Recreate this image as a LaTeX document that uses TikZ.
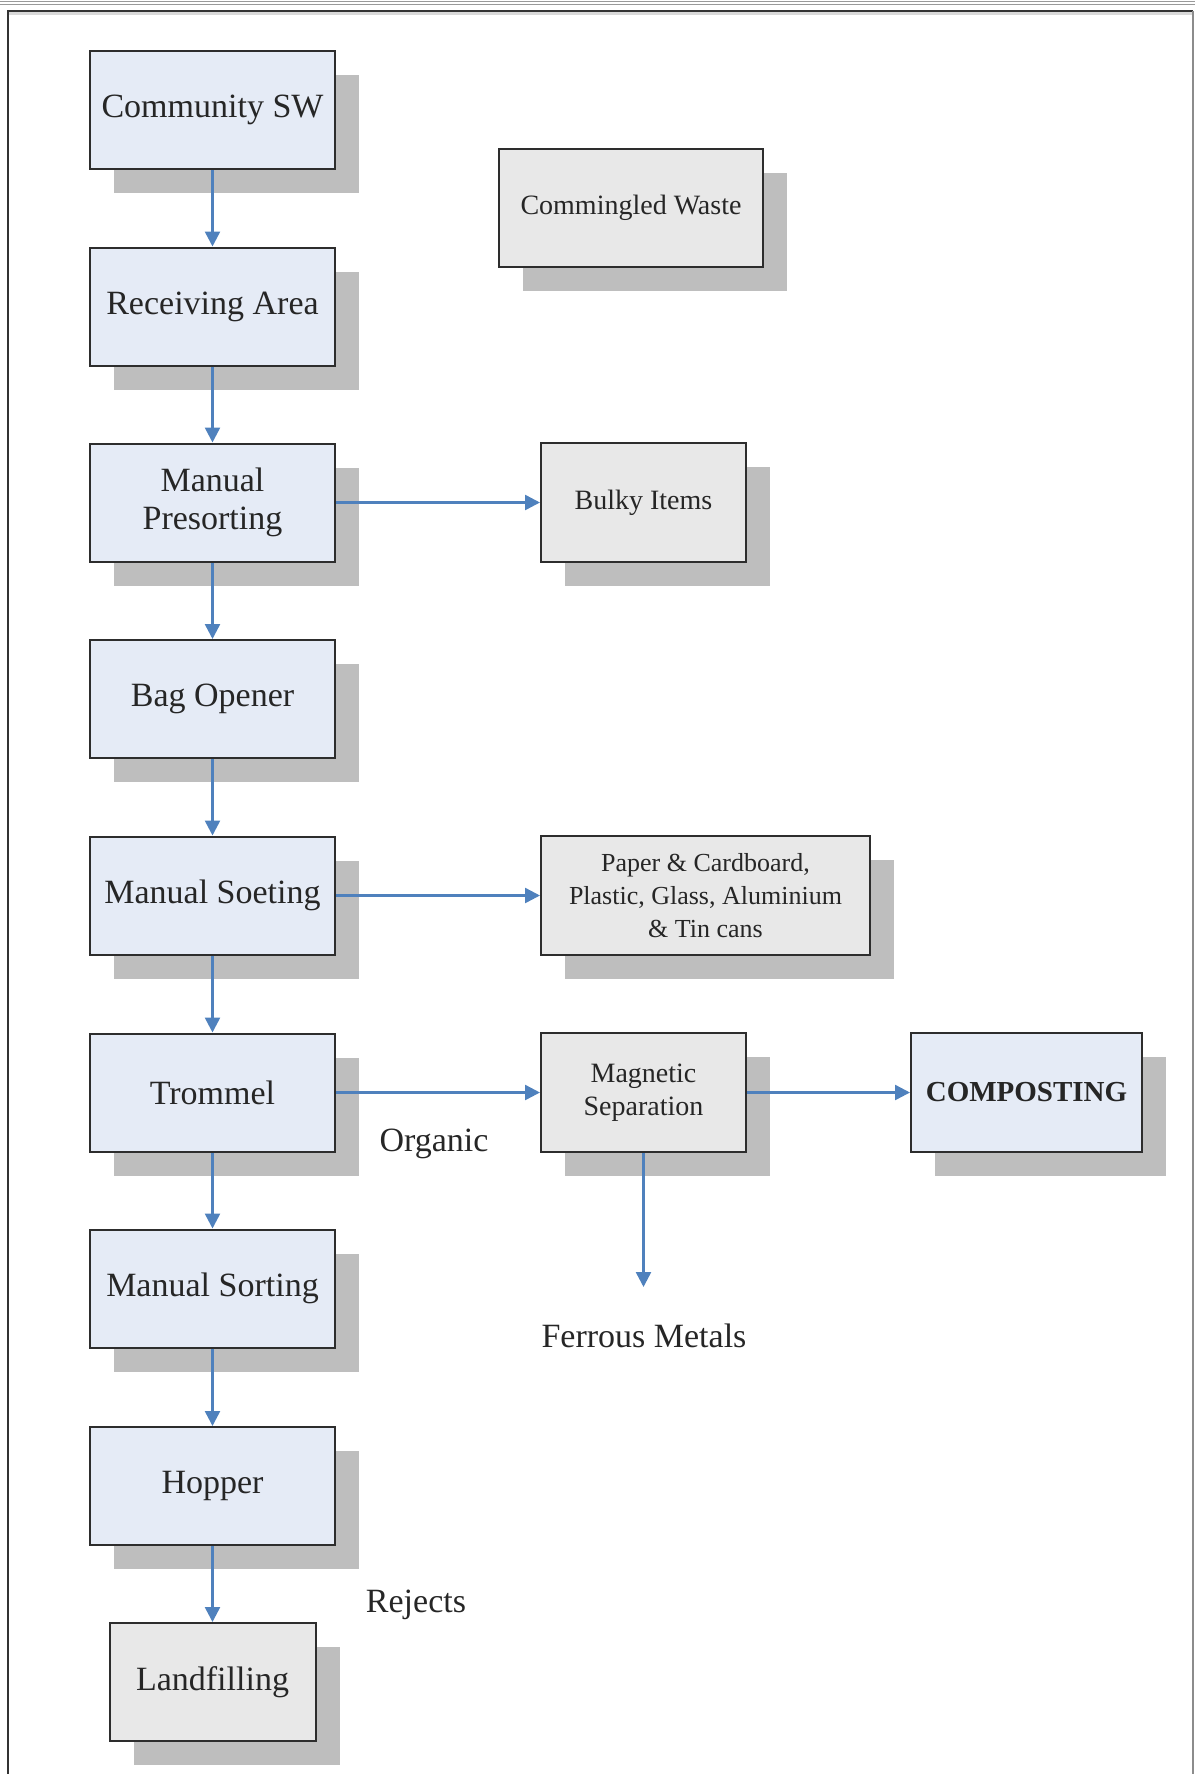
\documentclass[tikz,border=0pt]{standalone}
\usepackage{fontspec}
\setmainfont{Liberation Serif}
\usetikzlibrary{arrows.meta,shadows}
\definecolor{boxblue}{RGB}{229,235,246}
\definecolor{boxgray}{RGB}{232,232,232}
\definecolor{shadowgray}{RGB}{190,190,190}
\definecolor{bordergray}{RGB}{45,45,45}
\definecolor{arrowblue}{RGB}{79,129,189}
\tikzset{
  basebox/.style={draw=bordergray, line width=2pt, inner sep=0pt, align=center,
    text=black!85,
    drop shadow={shadow xshift=24pt, shadow yshift=-24pt, fill=shadowgray, opacity=1}},
  bluebox/.style={basebox, fill=boxblue, minimum width=245pt, minimum height=118pt,
    font=\fontsize{34}{38}\selectfont},
  graybox/.style={basebox, fill=boxgray},
  arr/.style={draw=arrowblue, line width=2.5pt,
    -{Triangle[length=15pt,width=15pt]}},
  lbl/.style={inner sep=0pt, anchor=base, text=black!85, font=\fontsize{34}{38}\selectfont}
}
\begin{document}
\begin{tikzpicture}[x=1pt,y=-1pt]
\useasboundingbox (0,0) rectangle (1195,1774);
% frame
\draw[black!40, line width=1pt] (0,2) -- (1195,2);
\draw[black!40, line width=1pt] (0,5) -- (1195,5);
\draw[black!15, line width=3pt] (9,14) -- (1192,14);
\draw[black!80, line width=2.5pt] (8,1774) -- (8,11) -- (1193,11);
\draw[black!45, line width=1.5pt] (1193,11) -- (1193,1774);

% left column
\node[bluebox] (cs) at (212.5,110) {Community SW};
\node[bluebox] (ra) at (212.5,306.5) {Receiving Area};
\node[bluebox] (mp) at (212.5,502.5) {Manual\\Presorting};
\node[bluebox] (bo) at (212.5,699) {Bag Opener};
\node[bluebox] (ms) at (212.5,895.5) {Manual Soeting};
\node[bluebox] (tr) at (212.5,1092.5) {Trommel};
\node[bluebox] (mso) at (212.5,1288.5) {Manual Sorting};
\node[bluebox] (hop) at (212.5,1486) {Hopper};
\node[graybox, minimum width=206pt, minimum height=118pt,
  font=\fontsize{34}{38}\selectfont] (lf) at (212.5,1682) {Landfilling};

% right side
\node[graybox, minimum width=264pt, minimum height=118pt,
  font=\fontsize{28}{33}\selectfont] (cw) at (631,208) {Commingled Waste};
\node[graybox, minimum width=205pt, minimum height=119pt,
  font=\fontsize{28}{33}\selectfont] (bulky) at (643.5,502.5) {Bulky Items};
\node[graybox, minimum width=329pt, minimum height=119pt,
  font=\fontsize{26}{33}\selectfont] (paper) at (705.5,895.5)
  {Paper \& Cardboard,\\Plastic, Glass, Aluminium\\\& Tin cans};
\node[graybox, minimum width=205pt, minimum height=119pt,
  font=\fontsize{28}{33}\selectfont] (mag) at (643.5,1092.5) {Magnetic\\Separation};
\node[bluebox, minimum width=231pt, minimum height=119pt,
  font=\fontsize{29}{33}\selectfont\bfseries] (comp) at (1026.5,1092.5) {COMPOSTING};

% labels
\node[lbl] (org) at (434,1151) {Organic};
\node[lbl] (fer) at (644,1347) {Ferrous Metals};
\node[lbl] (rej) at (416,1612) {Rejects};
\coordinate (feend) at (643.5,1287);

% connectors
\draw[arr] (cs) -- (ra);
\draw[arr] (ra) -- (mp);
\draw[arr] (mp) -- (bo);
\draw[arr] (bo) -- (ms);
\draw[arr] (ms) -- (tr);
\draw[arr] (tr) -- (mso);
\draw[arr] (mso) -- (hop);
\draw[arr] (hop) -- (lf);
\draw[arr] (mp) -- (bulky);
\draw[arr] (ms) -- (paper);
\draw[arr] (tr) -- (mag);
\draw[arr] (mag) -- (comp);
\draw[arr] (mag) -- (feend);
\end{tikzpicture}
\end{document}
